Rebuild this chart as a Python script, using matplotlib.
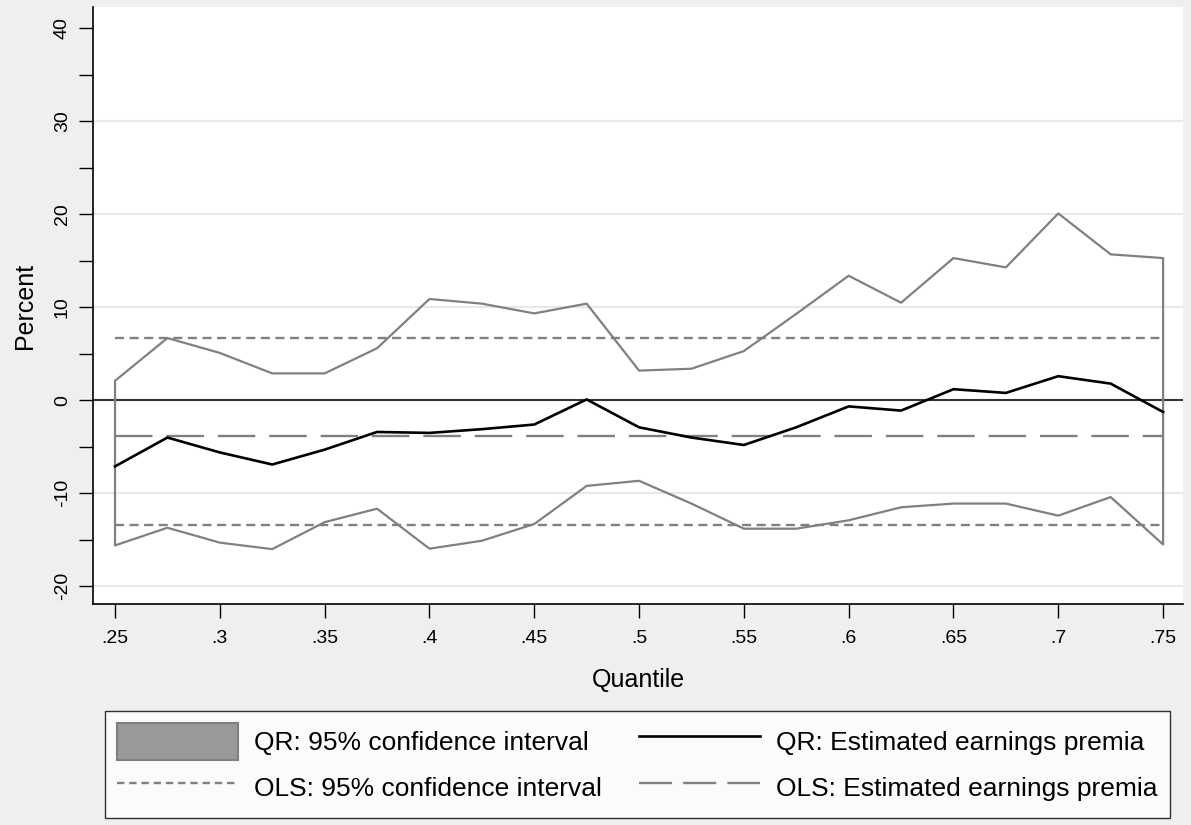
import matplotlib
matplotlib.use("Agg")
import matplotlib.pyplot as plt
from matplotlib.patches import Patch
from matplotlib.lines import Line2D
import numpy as np

plt.rcParams["font.family"] = ["Liberation Sans", "DejaVu Sans"]
plt.rcParams["lines.scale_dashes"] = False
plt.rcParams["axes.unicode_minus"] = False

# quantile regression results
quantiles = [.25, .275, .3, .325, .35, .375, .4, .425, .45, .475, .5,
             .525, .55, .575, .6, .625, .65, .675, .7, .725, .75]
qr_coef = [-7.1, -4.0, -5.6, -6.9, -5.3, -3.4, -3.5, -3.1, -2.6, 0.1, -2.9,
           -4.0, -4.8, -2.9, -0.65, -1.1, 1.2, 0.8, 2.6, 1.8, -1.25]
qr_upper = [2.1, 6.7, 5.1, 2.9, 2.9, 5.6, 10.9, 10.4, 9.35, 10.4, 3.2,
            3.4, 5.3, 9.3, 13.4, 10.5, 15.3, 14.3, 20.1, 15.7, 15.3]
qr_lower = [-15.6, -13.7, -15.3, -16.0, -13.1, -11.65, -15.95, -15.1, -13.3, -9.2, -8.65,
            -11.1, -13.8, -13.8, -12.9, -11.5, -11.1, -11.1, -12.4, -10.4, -15.5]

# OLS estimate and its confidence band
ols_coef = -3.8
ols_upper = 6.75
ols_lower = -13.4

yticks = [-20, -10, 0, 10, 20, 30, 40]
xticks = [.25, .3, .35, .4, .45, .5, .55, .6, .65, .7, .75]
xticklabels = [".25", ".3", ".35", ".4", ".45", ".5", ".55", ".6", ".65", ".7", ".75"]

gray = "#808080"
bg = "#efefef"

fig = plt.figure(figsize=(11.91, 8.25), dpi=100, facecolor=bg)
ax = fig.add_axes([93 / 1191, 1 - 604 / 825, (1183 - 93) / 1191, (604 - 7) / 825])
ax.set_facecolor("white")

q = np.array(quantiles)
ax.fill_between(q, qr_lower, qr_upper, facecolor="none", edgecolor=gray, lw=1.6, zorder=3)
ax.plot(q, qr_coef, color="black", lw=1.9, zorder=4)
ax.plot([q[0], q[-1]], [ols_upper] * 2, color=gray, lw=1.7, dashes=(6.5, 4), zorder=3)
ax.plot([q[0], q[-1]], [ols_lower] * 2, color=gray, lw=1.7, dashes=(6.5, 4), zorder=3)
ax.plot([q[0], q[-1]], [ols_coef] * 2, color=gray, lw=1.7, dashes=(27, 10), zorder=3)
ax.axhline(0, color="#333333", lw=1.5, zorder=2)

ax.set_xlim(.2395, .7595)
ax.set_ylim(-21.9, 42.3)
ax.set_xticks(xticks)
ax.set_xticklabels(xticklabels)
ax.set_yticks(yticks)
ax.set_yticks(np.arange(-15, 40, 10), minor=True)
ax.tick_params(axis="both", which="both", direction="out", length=10, width=1,
               color="black", labelsize=14, pad=6)
ax.tick_params(axis="x", pad=9)
ax.tick_params(axis="y", labelrotation=90)
for lab in ax.get_yticklabels():
    lab.set_va("center")
ax.grid(axis="y", which="major", color="#e8e8e8", lw=1.5, zorder=0)
ax.yaxis.get_gridlines()[-1].set_visible(False)

for side in ["top", "right"]:
    ax.spines[side].set_visible(False)
for side in ["left", "bottom"]:
    ax.spines[side].set_color("black")
    ax.spines[side].set_linewidth(1.2)

ax.set_xlabel("Quantile", fontsize=18, labelpad=15)
ax.set_ylabel("Percent", fontsize=18, labelpad=12)

handles = [
    Patch(facecolor="#999999", edgecolor=gray, lw=1.5),
    Line2D([], [], color=gray, lw=1.7, dashes=(5.3, 3.5)),
    Line2D([], [], color="black", lw=1.9),
    Line2D([], [], color=gray, lw=1.7, dashes=(23.8, 8)),
]
labels = ["QR: 95% confidence interval", "OLS: 95% confidence interval",
          "QR: Estimated earnings premia", "OLS: Estimated earnings premia"]
leg = fig.legend(handles, labels, ncol=2, loc="upper left",
                 bbox_to_anchor=(105 / 1191, 1 - 711 / 825),
                 fontsize=19, frameon=True, fancybox=False, edgecolor="black",
                 handlelength=4.6, handleheight=1.78, handletextpad=0.6,
                 columnspacing=1.4, labelspacing=0.35, borderpad=0.45,
                 borderaxespad=0)
leg.get_frame().set_linewidth(1.0)

fig.savefig("out.png", dpi=100, facecolor=bg)
